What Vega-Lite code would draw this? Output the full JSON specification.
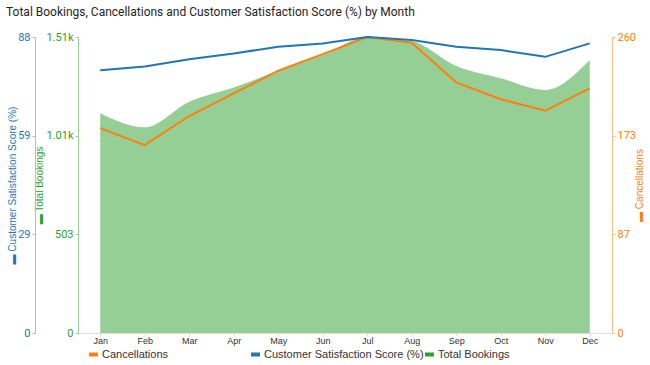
{
  "$schema": "https://vega.github.io/schema/vega-lite/v6.json",
  "width": 534,
  "height": 296,
  "autosize": "none",
  "padding": {"left": 78, "top": 37, "right": 38, "bottom": 32},
  "background": "white",
  "title": {
    "text": "Total Bookings, Cancellations and Customer Satisfaction Score (%) by Month",
    "anchor": "start",
    "frame": "group",
    "dx": -72,
    "offset": 12,
    "fontSize": 12,
    "fontWeight": "normal",
    "font": "Roboto",
    "color": "#252423"
  },
  "config": {
    "view": {"stroke": null},
    "axis": {"grid": false, "labelFont": "Liberation Sans", "titleFont": "Liberation Sans", "titleFontWeight": "normal"},
    "legend": {
      "title": null,
      "orient": "none",
      "direction": "horizontal",
      "labelFont": "Liberation Sans",
      "labelFontSize": 11,
      "labelLimit": 200,
      "labelColor": "#333333",
      "symbolType": "M-1,-0.45H1V0.45H-1Z",
      "symbolSize": 80,
      "symbolOpacity": 1,
      "symbolStrokeWidth": 0,
      "labelOffset": 3
    }
  },
  "data": {
    "values": [
      {"Month": "Jan", "Bookings": 1121, "Cancellations": 180, "Satisfaction": 78.1},
      {"Month": "Feb", "Bookings": 1049, "Cancellations": 165, "Satisfaction": 79.2},
      {"Month": "Mar", "Bookings": 1180, "Cancellations": 190.6, "Satisfaction": 81.4},
      {"Month": "Apr", "Bookings": 1253, "Cancellations": 210.5, "Satisfaction": 83.1},
      {"Month": "May", "Bookings": 1338, "Cancellations": 230.4, "Satisfaction": 85.1},
      {"Month": "Jun", "Bookings": 1418, "Cancellations": 245, "Satisfaction": 86.1},
      {"Month": "Jul", "Bookings": 1510, "Cancellations": 260, "Satisfaction": 88},
      {"Month": "Aug", "Bookings": 1490, "Cancellations": 255, "Satisfaction": 87.1},
      {"Month": "Sep", "Bookings": 1362, "Cancellations": 220.2, "Satisfaction": 85.1},
      {"Month": "Oct", "Bookings": 1299, "Cancellations": 205.3, "Satisfaction": 84.1},
      {"Month": "Nov", "Bookings": 1240, "Cancellations": 195.3, "Satisfaction": 82.1},
      {"Month": "Dec", "Bookings": 1393, "Cancellations": 214.9, "Satisfaction": 86.1}
    ]
  },
  "encoding": {
    "x": {
      "field": "Month",
      "type": "ordinal",
      "sort": null,
      "scale": {"type": "point", "padding": 0.5},
      "axis": {
        "title": null,
        "labelAngle": 0,
        "labelFontSize": 9,
        "labelColor": "#333333",
        "domainColor": "#dddddd",
        "tickColor": "#dddddd",
        "tickSize": 3,
        "labelPadding": 0
      }
    }
  },
  "layer": [
    {
      "mark": {"type": "area", "interpolate": "monotone", "opacity": 0.5},
      "encoding": {
        "y": {
          "field": "Bookings",
          "type": "quantitative",
          "scale": {"domain": [0, 1510], "nice": false, "zero": true},
          "axis": {
            "orient": "left",
            "offset": 0,
            "values": [0, 503.33, 1006.67, 1510],
            "labelExpr": "datum.value >= 1000 ? format(datum.value / 1000, '.2f') + 'k' : format(datum.value, '.0f')",
            "title": "▬ Total Bookings",
            "titleColor": "#2CA02C",
            "titleFontSize": 10,
            "titlePadding": 1,
            "labelColor": "#2CA02C",
            "labelFontSize": 11,
            "labelFont": "Roboto",
            "domainColor": "#98D498",
            "tickColor": "#98D498",
            "tickSize": 3,
            "labelPadding": 2
          }
        },
        "fill": {
          "datum": "Total Bookings",
          "type": "nominal",
          "scale": {"domain": ["Total Bookings"], "range": ["#2CA02C"]},
          "legend": {
            "legendX": 346,
            "legendY": 312,
            "encode": {"symbols": {"update": {"fill": {"value": "#2CA02C"}, "opacity": {"value": 1}, "strokeWidth": {"value": 0}}}}
          }
        }
      }
    },
    {
      "mark": {"type": "line", "strokeWidth": 2},
      "encoding": {
        "y": {
          "field": "Cancellations",
          "type": "quantitative",
          "scale": {"domain": [0, 260], "nice": false},
          "axis": {
            "orient": "right",
            "values": [0, 86.67, 173.33, 260],
            "format": ".0f",
            "title": "▬ Cancellations",
            "titleAngle": 270,
            "titleColor": "#FF7F0E",
            "titleFontSize": 10,
            "titlePadding": 9,
            "labelColor": "#FF7F0E",
            "labelFontSize": 11,
            "labelFont": "Roboto",
            "domainColor": "#FFC08A",
            "tickColor": "#FFC08A",
            "tickSize": 3,
            "labelPadding": 2
          }
        },
        "stroke": {
          "datum": "Cancellations",
          "type": "nominal",
          "scale": {"domain": ["Cancellations"], "range": ["#FF7F0E"]},
          "legend": {
            "legendX": 10,
            "legendY": 312,
            "encode": {"symbols": {"update": {"fill": {"value": "#FF7F0E"}, "opacity": {"value": 1}, "strokeWidth": {"value": 0}}}}
          }
        }
      }
    },
    {
      "mark": {"type": "line", "strokeWidth": 2},
      "encoding": {
        "y": {
          "field": "Satisfaction",
          "type": "quantitative",
          "scale": {"domain": [0, 88], "nice": false},
          "axis": {
            "orient": "left",
            "offset": 43,
            "values": [0, 29.33, 58.67, 88],
            "format": ".0f",
            "title": "▬ Customer Satisfaction Score (%)",
            "titleColor": "#1F77B4",
            "titleFontSize": 10,
            "titlePadding": 0,
            "labelColor": "#1F77B4",
            "labelFontSize": 11,
            "labelFont": "Roboto",
            "domainColor": "#9DC3E6",
            "tickColor": "#9DC3E6",
            "tickSize": 3,
            "labelPadding": 2
          }
        },
        "color": {
          "datum": "Customer Satisfaction Score (%)",
          "type": "nominal",
          "scale": {"domain": ["Customer Satisfaction Score (%)"], "range": ["#1F77B4"]},
          "legend": {
            "legendX": 172,
            "legendY": 312,
            "encode": {"symbols": {"update": {"fill": {"value": "#1F77B4"}, "opacity": {"value": 1}, "strokeWidth": {"value": 0}}}}
          }
        }
      }
    }
  ],
  "resolve": {"scale": {"y": "independent"}}
}
